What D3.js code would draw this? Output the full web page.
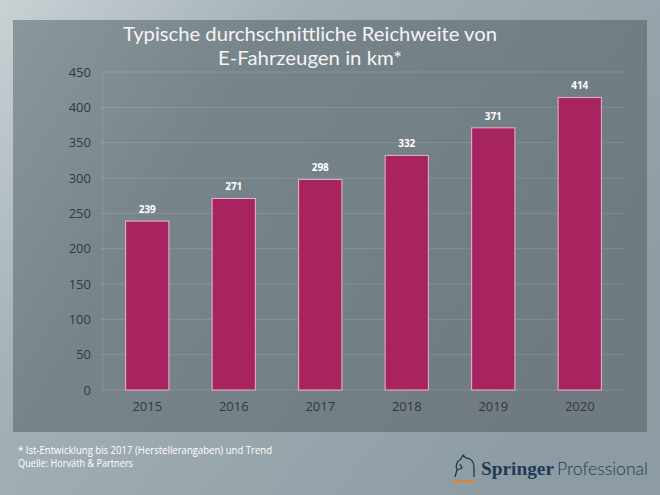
<!DOCTYPE html>
<html><head><meta charset="utf-8">
<script src="https://cdn.jsdelivr.net/npm/d3@7/dist/d3.min.js"></script>
<style>
html,body{margin:0;padding:0;background:#9aa7ad;}
svg{display:block;}
</style></head>
<body>
<svg id="chart" width="660" height="495"></svg>
<script>
const categories = ["2015","2016","2017","2018","2019","2020"];
const values = [239, 271, 298, 332, 371, 414];
const yTicks = [0,50,100,150,200,250,300,350,400,450];
const titleLines = ["Typische durchschnittliche Reichweite von", "E-Fahrzeugen in km*"];
const footnotes = ["* Ist-Entwicklung bis 2017 (Herstellerangaben) und Trend", "Quelle: Horváth & Partners"];

const svg = d3.select("#chart");
const defs = svg.append("defs");
const bg = defs.append("linearGradient").attr("id","bg").attr("x1","0").attr("y1","0").attr("x2","1").attr("y2","0.6");
bg.append("stop").attr("offset","0").attr("stop-color","#c9d1d4");
bg.append("stop").attr("offset","0.35").attr("stop-color","#a3b0b6");
bg.append("stop").attr("offset","1").attr("stop-color","#8d9ca3");
const pg = defs.append("linearGradient").attr("id","panel").attr("x1","0").attr("y1","0").attr("x2","1").attr("y2","0.4");
pg.append("stop").attr("offset","0").attr("stop-color","#8a979c");
pg.append("stop").attr("offset","0.35").attr("stop-color","#77858b");
pg.append("stop").attr("offset","1").attr("stop-color","#6f7b81");

svg.append("rect").attr("width",660).attr("height",495).attr("fill","url(#bg)");
svg.append("rect").attr("x",13).attr("y",20).attr("width",634).attr("height",412).attr("fill","url(#panel)");

const x = d3.scaleBand().domain(categories).range([104,623]).paddingInner(0.5).paddingOuter(0.25);
const y = d3.scaleLinear().domain([0,450]).range([390,72]);

// grid
svg.append("g").selectAll("line").data(yTicks).join("line")
  .attr("x1",100).attr("x2",624).attr("y1",d=>y(d)).attr("y2",d=>y(d))
  .attr("stroke","rgba(255,255,255,0.13)").attr("stroke-width",1);
svg.append("line").attr("x1",103).attr("x2",103).attr("y1",72).attr("y2",390)
  .attr("stroke","rgba(255,255,255,0.10)");

// y axis labels
const yAxis = d3.axisLeft(y).tickValues(yTicks).tickSize(0).tickPadding(0);
const ga = svg.append("g").attr("transform","translate(91,0)").call(yAxis);
ga.select(".domain").remove();
ga.selectAll("text").attr("font-family","'Open Sans', sans-serif").attr("font-size",13).attr("fill","#34393c");

const xAxis = d3.axisBottom(x).tickSize(0).tickPadding(0);
const gx = svg.append("g").attr("transform","translate(0,402)").call(xAxis);
gx.select(".domain").remove();
gx.selectAll("text").attr("font-family","'Open Sans', sans-serif").attr("font-size",13).attr("fill","#34393c");

// bars
svg.append("g").selectAll("rect").data(values).join("rect")
  .attr("x",(d,i)=>x(categories[i])).attr("width",x.bandwidth())
  .attr("y",d=>y(d)).attr("height",d=>y(0)-y(d))
  .attr("fill","#a82460").attr("stroke","#e7b5cc").attr("stroke-width",1);

svg.append("g").selectAll("text").data(values).join("text")
  .attr("x",(d,i)=>x(categories[i])+x.bandwidth()/2).attr("y",d=>y(d)-8)
  .attr("text-anchor","middle").attr("font-family","'Open Sans', sans-serif")
  .attr("font-weight","bold").attr("font-size",10).attr("fill","#ffffff")
  .text(d=>d);

// title
const titleLens = [374, 184];
svg.append("g").selectAll("text").data(titleLines).join("text")
  .attr("x",310).attr("y",(d,i)=>41+i*24).attr("text-anchor","middle")
  .attr("font-family","Lato, sans-serif").attr("font-size",20).attr("fill","#f4f4f4")
  .attr("textLength",(d,i)=>titleLens[i]).attr("lengthAdjust","spacingAndGlyphs")
  .text(d=>d);

// footnotes
const footLens = [254, 115];
svg.append("g").selectAll("text").data(footnotes).join("text")
  .attr("x",18).attr("y",(d,i)=>454+i*12.5)
  .attr("font-family","'Open Sans', sans-serif").attr("font-size",10).attr("fill","#ffffff")
  .attr("textLength",(d,i)=>footLens[i]).attr("lengthAdjust","spacingAndGlyphs")
  .text(d=>d);

// logo
const logo = svg.append("g");
logo.append("text").attr("x",481).attr("y",475).attr("font-family","'Liberation Serif', serif")
  .attr("font-size",19.5).attr("fill","#1e3a58").attr("font-weight","bold")
  .attr("textLength",73).attr("lengthAdjust","spacingAndGlyphs").text("Springer");
logo.append("text").attr("x",557).attr("y",475).attr("font-family","Lato, sans-serif")
  .attr("font-size",17.5).attr("fill","#1e3a58").attr("font-weight",300)
  .attr("textLength",91).attr("lengthAdjust","spacingAndGlyphs").text("Professional");
// simple knight icon
logo.append("path").attr("d","M455,477 L457,470 C455,466 457,461 461,459 L463,455 L466,458 C471,458 474,462 474,467 L474,477 M457,470 L462,468 L460,464")
  .attr("fill","none").attr("stroke","#1e3a58").attr("stroke-width",1.3).attr("stroke-linejoin","round");
logo.append("line").attr("x1",452).attr("x2",474).attr("y1",481).attr("y2",481)
  .attr("stroke","#e8802a").attr("stroke-width",2);
</script>
</body></html>
